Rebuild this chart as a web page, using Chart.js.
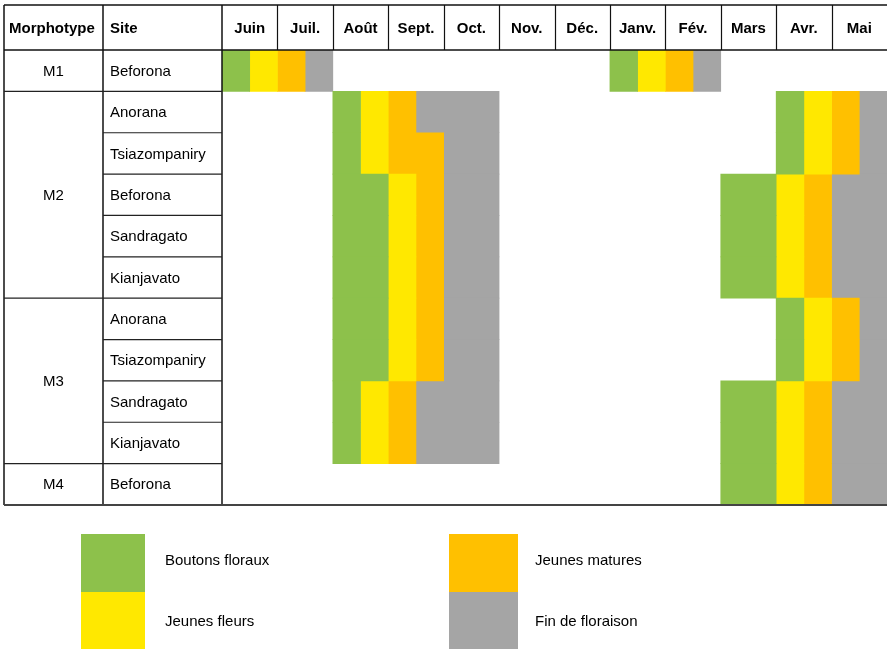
<!DOCTYPE html>
<html>
<head>
<meta charset="utf-8">
<script src="https://cdn.jsdelivr.net/npm/chart.js@4/dist/chart.umd.min.js"></script>
<style>
  body { margin: 0; background: #ffffff; }
  #wrap { width: 887px; height: 651px; }
</style>
</head>
<body>
<div id="wrap"><canvas id="phenoChart" width="887" height="651"></canvas></div>
<script>
// months of the table header, each month is split in two halves (quinzaines)
var months = ["Juin", "Juil.", "Août", "Sept.", "Oct.", "Nov.", "Déc.", "Janv.", "Fév.", "Mars", "Avr.", "Mai"];
var morphotypes = ["M1", "M2", "M3", "M4"];
var sites = ["Beforona", "Anorana", "Tsiazompaniry", "Beforona", "Sandragato", "Kianjavato",
  "Anorana", "Tsiazompaniry", "Sandragato", "Kianjavato", "Beforona"];
var rowGroup = [0, 1, 1, 1, 1, 1, 2, 2, 2, 2, 3]; // morphotype index of each row

var stageNames = ["Boutons floraux", "Jeunes fleurs", "Jeunes matures", "Fin de floraison"];
var stageColors = ["#8DC14B", "#FFE800", "#FFC000", "#A5A5A5"];

// [start, end] in half-months from the start of Juin, first season (Juin - Oct.)
var boutons1 = [[0, 1], [4, 5], [4, 5], [4, 6], [4, 6], [4, 6], [4, 6], [4, 6], [4, 5], [4, 5], null];
var fleurs1 = [[1, 2], [5, 6], [5, 6], [6, 7], [6, 7], [6, 7], [6, 7], [6, 7], [5, 6], [5, 6], null];
var matures1 = [[2, 3], [6, 7], [6, 8], [7, 8], [7, 8], [7, 8], [7, 8], [7, 8], [6, 7], [6, 7], null];
var fin1 = [[3, 4], [7, 10], [8, 10], [8, 10], [8, 10], [8, 10], [8, 10], [8, 10], [7, 10], [7, 10], null];
// second season (Janv. - Mai)
var boutons2 = [[14, 15], [20, 21], [20, 21], [18, 20], [18, 20], [18, 20], [20, 21], [20, 21], [18, 20], [18, 20], [18, 20]];
var fleurs2 = [[15, 16], [21, 22], [21, 22], [20, 21], [20, 21], [20, 21], [21, 22], [21, 22], [20, 21], [20, 21], [20, 21]];
var matures2 = [[16, 17], [22, 23], [22, 23], [21, 22], [21, 22], [21, 22], [22, 23], [22, 23], [21, 22], [21, 22], [21, 22]];
var fin2 = [[17, 18], [23, 24], [23, 24], [22, 24], [22, 24], [22, 24], [23, 24], [23, 24], [22, 24], [22, 24], [22, 24]];

var FONT = "'Liberation Sans', Arial, sans-serif";

function make_Dataset(stage, data) {
  return {
    label: stageNames[stage],
    data: data,
    backgroundColor: stageColors[stage],
    borderWidth: 0,
    borderSkipped: false,
    grouped: false,
    barPercentage: 1,
    categoryPercentage: 1,
  };
}

var rowLabels = sites.map(function (s, i) {
  return morphotypes[rowGroup[i]] + " " + s;
});

// draws the table frame, header, row labels and the legend around the bars
var tablePlugin = {
  id: "tableFrame",
  afterDraw: function (chart) {
    var ctx = chart.ctx;
    var area = chart.chartArea;
    var xs = chart.scales.x;
    var ys = chart.scales.y;
    var top = 5, left = 4, col2 = 103, col3 = area.left;
    var right = chart.width;
    var n = sites.length;

    function rowEdge(i) {
      // boundary above row i
      if (i <= 0) return area.top;
      if (i >= n) return area.bottom;
      return (ys.getPixelForValue(i - 1) + ys.getPixelForValue(i)) / 2;
    }
    function line(x1, y1, x2, y2, w, c) {
      ctx.beginPath();
      ctx.lineWidth = w;
      ctx.strokeStyle = c;
      ctx.moveTo(x1, y1);
      ctx.lineTo(x2, y2);
      ctx.stroke();
    }

    ctx.save();
    // header row
    line(left, top, right, top, 1.5, "#111");
    line(left, area.top, right, area.top, 1.5, "#111");
    for (var m = 1; m < months.length; m++) {
      var xm = Math.round(xs.getPixelForValue(m * 2)) + 0.5;
      line(xm, top, xm, area.top, 1.2, "#111");
    }
    ctx.fillStyle = "#000";
    ctx.textBaseline = "middle";
    ctx.font = "bold 15px " + FONT;
    ctx.textAlign = "left";
    ctx.fillText("Morphotype", 9, (top + area.top) / 2 + 1);
    ctx.fillText("Site", 110, (top + area.top) / 2 + 1);
    ctx.textAlign = "center";
    for (var k = 0; k < months.length; k++) {
      var xc = (xs.getPixelForValue(k * 2) + xs.getPixelForValue(k * 2 + 2)) / 2;
      ctx.fillText(months[k], xc, (top + area.top) / 2 + 1);
    }

    // left columns
    line(left, top, left, area.bottom, 1.5, "#111");
    line(col2, top, col2, area.bottom, 1.5, "#111");
    line(col3, top, col3, area.bottom, 1.5, "#111");
    ctx.font = "15px " + FONT;
    for (var i = 0; i < n; i++) {
      var y0 = rowEdge(i), y1 = rowEdge(i + 1);
      if (i > 0) {
        var newGroup = rowGroup[i] != rowGroup[i - 1];
        line(newGroup ? left : col2, y0, col3, y0, 1.2, "#222");
      }
      ctx.textAlign = "left";
      ctx.fillText(sites[i], 110, (y0 + y1) / 2 + 1);
    }
    // morphotype labels centred on their group of rows
    ctx.textAlign = "center";
    for (var g = 0; g < morphotypes.length; g++) {
      var first = rowGroup.indexOf(g), last = rowGroup.lastIndexOf(g);
      ctx.fillText(morphotypes[g], (left + col2) / 2, (rowEdge(first) + rowEdge(last + 1)) / 2 + 1);
    }
    line(left, area.bottom, right, area.bottom, 2, "#444");

    // legend, two columns of stacked boxes
    var legX = [81, 449], boxW = [64, 69], textX = [165, 535];
    var legY = [534, 592], boxH = 58;
    ctx.textAlign = "left";
    ctx.font = "15px " + FONT;
    for (var s = 0; s < stageNames.length; s++) {
      var c = Math.floor(s / 2), r = s % 2;
      ctx.fillStyle = stageColors[s];
      ctx.fillRect(legX[c], legY[r], boxW[c], boxH - (r == 1 ? 1 : 0));
      ctx.fillStyle = "#000";
      ctx.fillText(stageNames[s], textX[c], legY[r] + 27 + r * 3);
    }
    ctx.restore();
  },
};

var ctx = document.getElementById("phenoChart").getContext("2d");
var myChart = new Chart(ctx, {
  type: "bar",
  data: {
    labels: rowLabels,
    datasets: [
      make_Dataset(0, boutons1), make_Dataset(1, fleurs1), make_Dataset(2, matures1), make_Dataset(3, fin1),
      make_Dataset(0, boutons2), make_Dataset(1, fleurs2), make_Dataset(2, matures2), make_Dataset(3, fin2),
    ],
  },
  options: {
    indexAxis: "y",
    responsive: false,
    animation: false,
    devicePixelRatio: 1,
    layout: {
      padding: { left: 222, top: 50, right: 0, bottom: 146 },
    },
    scales: {
      x: { type: "linear", min: 0, max: 24, display: false },
      y: { type: "category", display: false, offset: true },
    },
    plugins: {
      legend: { display: false },
      tooltip: { enabled: false },
    },
  },
  plugins: [tablePlugin],
});
</script>
</body>
</html>
